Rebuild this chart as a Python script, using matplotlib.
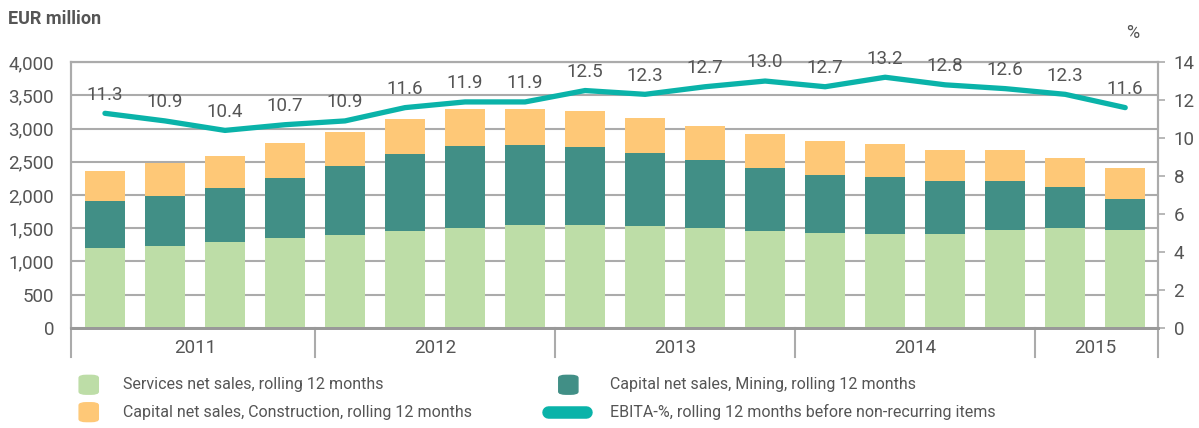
import numpy as np
import matplotlib.pyplot as plt
from matplotlib.patches import FancyBboxPatch
from matplotlib.lines import Line2D
import matplotlib.transforms as mtransforms

plt.rcParams['font.family'] = ['Roboto', 'DejaVu Sans']

years = ['2011', '2012', '2013', '2014', '2015']
quarters_per_year = [4, 4, 4, 4, 2]

services = [1207, 1232, 1292, 1352, 1397, 1456, 1501, 1546, 1546,
            1531, 1501, 1456, 1427, 1412, 1412, 1471, 1501, 1471]
mining = [698, 748, 808, 898, 1032, 1153, 1242, 1212, 1182,
          1093, 1018, 943, 867, 853, 793, 734, 614, 464]
construction = [459, 494, 489, 533, 519, 538, 544, 539, 539,
                533, 524, 514, 514, 498, 474, 474, 444, 464]
ebita = [11.3, 10.9, 10.4, 10.7, 10.9, 11.6, 11.9, 11.9, 12.5,
         12.3, 12.7, 13.0, 12.7, 13.2, 12.8, 12.6, 12.3, 11.6]

c_serv = '#bddda7'
c_min = '#418f86'
c_con = '#fec877'
c_line = '#0ab3a9'
c_text = '#555555'
c_grid = '#ababab'

fig = plt.figure(figsize=(11.99, 4.28), dpi=100)
ax = fig.add_axes([0.059, 0.234, 0.907, 0.621])
ax2 = ax.twinx()

x = np.arange(len(services))
w = 0.67
ax.bar(x, services, w, color=c_serv, zorder=2)
ax.bar(x, mining, w, bottom=services, color=c_min, zorder=2)
bot2 = np.array(services) + np.array(mining)
ax.bar(x, construction, w, bottom=bot2, color=c_con, zorder=2)

ax.set_ylim(0, 4000)
ax.set_xlim(-0.57, len(x) - 1 + 0.55)
ax.set_yticks(np.arange(0, 4001, 500))
ax.set_yticklabels([f'{v:,}' for v in range(0, 4001, 500)])
ax.grid(axis='y', color=c_grid, lw=1.5, zorder=0)
ax.set_axisbelow(True)
ax.set_xticks([])
ax.tick_params(axis='y', length=0, labelsize=13.5, colors=c_text, pad=12)

ax2.plot(x, ebita, color=c_line, lw=3.8, solid_capstyle='round', zorder=5)
for xi, v in zip(x, ebita):
    ax2.annotate(f'{v:.1f}', (xi, v), xytext=(0, 7), textcoords='offset points',
                 ha='center', va='bottom', fontsize=13.5, color=c_text)
ax2.set_ylim(0, 14)
ax2.set_yticks(np.arange(0, 15, 2))
ax2.tick_params(axis='y', direction='out', length=5, width=1.2, color=c_grid,
                labelsize=13.5, labelcolor=c_text, pad=6)

for a in (ax, ax2):
    for s in ['top', 'left', 'right']:
        a.spines[s].set_color(c_grid)
        a.spines[s].set_linewidth(1.5)
    a.spines['bottom'].set_color('#999999')
    a.spines['bottom'].set_linewidth(2)

# year axis below the plot
trans = mtransforms.blended_transform_factory(ax.transData, ax.transAxes)
start = -0.5
edges = [-0.57]
for yr, n in zip(years, quarters_per_year):
    mid = start + n / 2
    ax.text(mid, -0.075, yr, transform=trans, ha='center', va='center',
            fontsize=13.5, color=c_text)
    start += n
    edges.append(start)
edges[-1] = len(x) - 1 + 0.55
for e in edges:
    ax.plot([e, e], [0, -0.11], transform=trans, color=c_grid, lw=1.5, clip_on=False)

fig.text(0.007, 0.955, 'EUR million', fontsize=13, fontweight='bold', color=c_text,
         ha='left', va='center')
fig.text(0.945, 0.922, '%', fontsize=13, color=c_text, ha='center', va='center')

# legend
legend_items = [
    ('Services net sales, rolling 12 months', c_serv, 'box', 0.066, 0.103, 0.101),
    ('Capital net sales, Mining, rolling 12 months', c_min, 'box', 0.466, 0.509, 0.101),
    ('Capital net sales, Construction, rolling 12 months', c_con, 'box', 0.066, 0.103, 0.037),
    ('EBITA-%, rolling 12 months before non-recurring items', c_line, 'line', 0.452, 0.509, 0.037),
]
for label, col, kind, px, tx, ty in legend_items:
    if kind == 'box':
        fig.patches.append(FancyBboxPatch((px, ty - 0.022), 0.016, 0.044,
                                          boxstyle='round,pad=0,rounding_size=0.006',
                                          transform=fig.transFigure, color=col))
    else:
        fig.lines.append(Line2D([px + 0.005, px + 0.037], [ty, ty], transform=fig.transFigure,
                                color=col, lw=9, solid_capstyle='round'))
    fig.text(tx, ty, label, fontsize=11.5, color=c_text, ha='left', va='center')

fig.savefig('out.png', dpi=100)
